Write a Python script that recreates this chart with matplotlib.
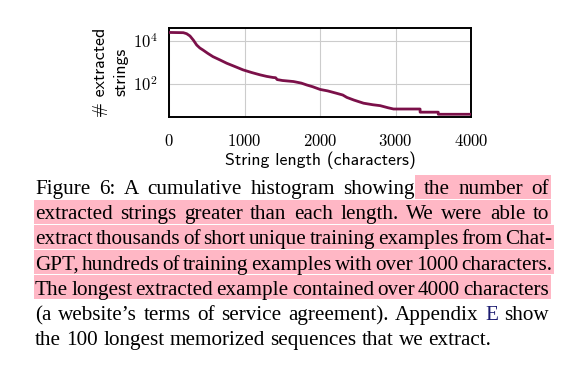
import matplotlib
matplotlib.use('Agg')
import matplotlib.pyplot as plt
from matplotlib.patches import Rectangle
from matplotlib.ticker import NullLocator

plt.rcParams['mathtext.fontset'] = 'cm'

# ---------------- data ----------------
lengths = [0, 186, 230, 274, 320, 363, 405, 447, 510, 579, 670, 761, 870, 977, 1090,
           1203, 1290, 1375, 1410, 1430, 1500, 1646, 1750, 1823, 1900, 2000, 2100,
           2221, 2300, 2354, 2450, 2575, 2700, 2796, 2900, 2973, 3325, 3325, 3566,
           3566, 4000]
counts = [24000, 23400, 21000, 16500, 10500, 6300, 4600, 3700, 2600, 1830, 1300, 910,
          640, 450, 340, 265, 225, 200, 195, 160, 145, 130, 110, 90, 75, 56, 48, 37,
          31, 24, 18, 13, 11, 10, 8, 7, 7, 5, 5, 4, 4]
x_ticks = [0, 1000, 2000, 3000, 4000]
x_tick_labels = ['$0$', '$1000$', '$2000$', '$3000$', '$4000$']
y_ticks = [1e2, 1e4]
y_tick_labels = ['$10^2$', '$10^4$']
x_label = 'String length (characters)'
y_label_lines = ['# extracted', 'strings']

caption_lines = [
    "Figure 6: A cumulative histogram showing the number of",
    "extracted strings greater than each length. We were able to",
    "extract thousands of short unique training examples from Chat-",
    "GPT, hundreds of training examples with over 1000 characters.",
    "The longest extracted example contained over 4000 characters",
    "(a website\u2019s terms of service agreement). Appendix E show",
    "the 100 longest memorized sequences that we extract.",
]
# word index at which highlighting starts (None = no highlight)
highlight_from = [6, 0, 0, 0, 0, None, None]
justified = [True, True, True, True, True, True, False]

# ---------------- layout ----------------
W, H = 573, 369
def fx(px):
    return px / W
def fy(py):
    return 1 - py / H

fig = plt.figure(figsize=(5.73, 3.69), dpi=100)
ax = fig.add_axes([fx(169.3), fy(117.3), (471 - 169.3) / W, (117.3 - 28.3) / H])
ax.plot(lengths, counts, color='#7b1049', lw=2.0, zorder=3)
ax.set_yscale('log')
ax.set_xlim(0, 4000)
ax.set_ylim(2.9, 37300)
ax.set_xticks(x_ticks, labels=x_tick_labels)
ax.set_yticks(y_ticks, labels=y_tick_labels)
ax.yaxis.set_minor_locator(NullLocator())
ax.tick_params(length=0, labelsize=12)
ax.tick_params(axis='x', pad=10.5)
ax.tick_params(axis='y', pad=8.5)
ax.grid(True, color='#cccccc', lw=0.8)
ax.set_axisbelow(True)
for s in ax.spines.values():
    s.set_linewidth(1.4)

lab_font = dict(family='cmss10', size=12.8)
fig.text(fx(320), fy(165), x_label, ha='center', va='baseline', **lab_font)
fig.text(fx(105), fy(72), y_label_lines[0], rotation=90, rotation_mode='anchor',
         ha='center', va='baseline', **lab_font)
fig.text(fx(125), fy(72), y_label_lines[1], rotation=90, rotation_mode='anchor',
         ha='center', va='baseline', **lab_font)

# ---------------- caption ----------------
cap_font = dict(family='Liberation Serif', size=15.2)
pink = '#ffb7c5'
L, R = 35, 549
base0, pitch = 194, 25.2
renderer = fig.canvas.get_renderer()

probe1 = fig.text(0, 0, 'a b', **cap_font)
probe2 = fig.text(0, 0, 'ab', **cap_font)
space_nat = probe1.get_window_extent(renderer).width - probe2.get_window_extent(renderer).width
probe1.remove()
probe2.remove()

for i, line in enumerate(caption_lines):
    words = line.split(' ')
    base = base0 + i * pitch
    texts = []
    for w in words:
        col = '#1c1c70' if (i == 5 and w == 'E') else 'black'
        t = fig.text(0, fy(base), w, ha='left', va='baseline', color=col,
                     zorder=5, **cap_font)
        texts.append(t)
    widths = [t.get_window_extent(renderer).width for t in texts]
    if justified[i]:
        r = R + (3 if words[-1][-1] in '.-' else 0)
        gap = (r - L - sum(widths)) / (len(words) - 1)
    else:
        gap = space_nat
    x = L
    ends = []
    for t, w in zip(texts, widths):
        t.set_x(fx(x))
        x += w
        ends.append(x)
        x += gap
    if highlight_from[i] is not None:
        k = highlight_from[i]
        x0 = ends[k - 1] if k > 0 else L - 1
        x1 = ends[-1] + 1.5
        y0, y1 = base - 19.5, base + 4.5
        fig.add_artist(Rectangle((fx(x0), fy(y1)), (x1 - x0) / W, (y1 - y0) / H,
                                 transform=fig.transFigure, facecolor=pink,
                                 edgecolor='none', zorder=1))

fig.savefig('out.png', dpi=100)
